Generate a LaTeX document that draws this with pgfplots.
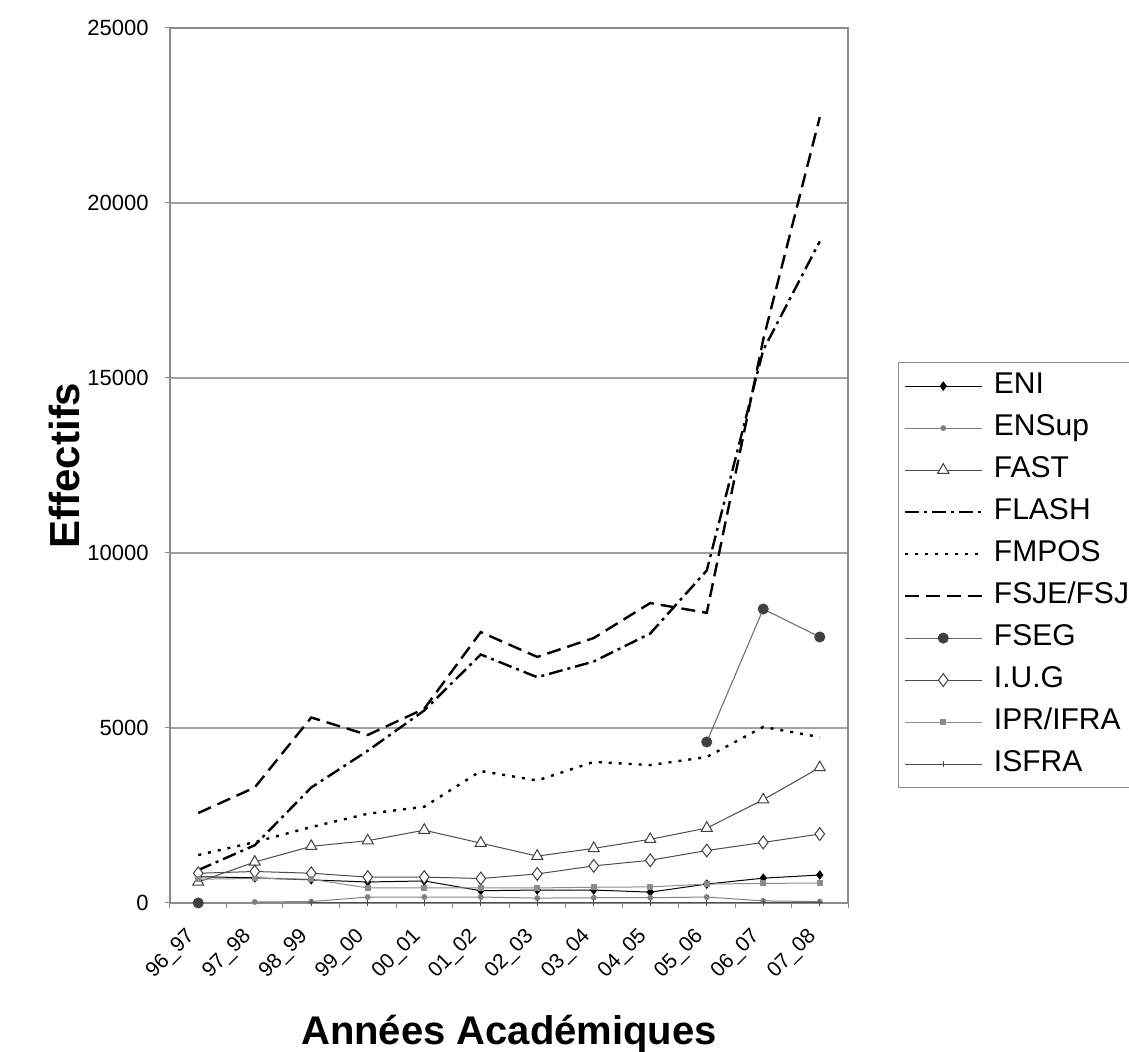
\documentclass[border=0pt]{standalone}
\usepackage{fontspec}
\setmainfont{Liberation Sans}
\usepackage{pgfplots}
\usepackage{pgfplotstable}
\pgfplotsset{compat=1.18}
\pgfplotstableread{
x ENI ENSup FAST FLASH FMPOS FSJE FSEG IUG IPR ISFRA
0 750 nan 600 940 1370 2570 0 850 680 nan
1 720 30 1170 1650 1740 3300 nan 900 700 nan
2 660 40 1620 3300 2170 5300 nan 850 680 10
3 600 170 1780 4350 2550 4800 nan 740 430 10
4 630 170 2080 5500 2750 5550 nan 740 430 10
5 350 170 1710 7100 3770 7740 nan 700 430 10
6 370 140 1340 6450 3500 7030 nan 830 430 10
7 370 150 1560 6900 4030 7570 nan 1060 450 10
8 310 150 1820 7700 3940 8570 nan 1220 460 10
9 540 170 2140 9500 4170 8290 4600 1500 540 10
10 710 60 2950 15800 5030 16100 8400 1730 560 10
11 800 40 3870 18900 4740 22450 7600 1970 570 10
}\datatable
\definecolor{gridgray}{HTML}{A0A0A0}
\definecolor{axgray}{HTML}{8C8C8C}
\begin{document}
\begin{tikzpicture}[x=1pt,y=1pt]
\begin{axis}[
  at={(0,0)}, anchor=south west,
  scale only axis, width=339pt, height=437.5pt,
  xmin=-0.5, xmax=11.5, ymin=0, ymax=25000,
  xtick={0,...,11},
  xticklabels={96\_97,97\_98,98\_99,99\_00,00\_01,01\_02,02\_03,03\_04,04\_05,05\_06,06\_07,07\_08},
  minor xtick={-0.5,0.5,...,11.5},
  major x tick style={draw=none},
  minor tick length=2.5pt,
  ytick={0,5000,...,25000},
  major tick length=2.5pt,
  tick align=outside,
  tick pos=left,
  tick style={axgray, line width=0.5pt},
  ymajorgrids,
  grid style={gridgray, line width=0.6pt},
  axis line style={axgray, line width=0.6pt},
  scaled y ticks=false,
  yticklabel style={/pgf/number format/1000 sep={}, font=\fontsize{11}{12}\selectfont, inner sep=2pt, xshift=-6pt},
  xticklabel style={xshift=-2.5pt, yshift=-12pt, rotate=45, anchor=east, font=\fontsize{10.5}{12}\selectfont, inner sep=1pt},
  /pgf/number format/assume math mode=true,
  xlabel={\textbf{Années Académiques}},
  xlabel style={at={(axis description cs:0.5,0)}, anchor=base, yshift=-71pt, font=\fontsize{20}{24}\selectfont},
  ylabel={\textbf{Effectifs}},
  ylabel style={at={(axis description cs:-0.155,0.5)}, anchor=center, font=\fontsize{21}{24}\selectfont},
  unbounded coords=jump,
  legend style={at={(axis description cs:1.0737,0.6183)}, anchor=north west,
    draw=axgray, line width=0.6pt, inner sep=2.5pt, row sep=2.5pt,
    font=\fontsize{15}{17}\selectfont,
    nodes={text height=11pt, text depth=3.5pt, inner ysep=2pt, inner xsep=2pt}},
  legend cell align=left,
  legend image code/.code={\draw[mark repeat=2,mark phase=2] plot coordinates {(0pt,0pt) (19.25pt,0pt) (38.5pt,0pt)}; \path (42pt,0pt);},
]
\addplot[black, line width=0.5pt, mark=diamond*, mark size=2pt, mark options={solid, fill=black}] table[x=x,y=ENI] {\datatable};
\addlegendentry{ENI}
\addplot[gray, line width=0.5pt, mark=*, mark size=1.2pt, mark options={solid, fill=gray}] table[x=x,y=ENSup] {\datatable};
\addlegendentry{ENSup}
\addplot[black!70, line width=0.5pt, mark=triangle*, mark size=3.2pt, mark options={solid, fill=white, draw=black!75}] table[x=x,y=FAST] {\datatable};
\addlegendentry{FAST}
\addplot[black, line width=1.2pt, dash pattern=on 7pt off 2.5pt on 1.5pt off 2.5pt] table[x=x,y=FLASH] {\datatable};
\addlegendentry{FLASH}
\addplot[black, line width=1.2pt, dash pattern=on 1.5pt off 3.5pt] table[x=x,y=FMPOS] {\datatable};
\addlegendentry{FMPOS}
\addplot[black, line width=1.2pt, dash pattern=on 7pt off 3.5pt] table[x=x,y=FSJE] {\datatable};
\addlegendentry{FSJE/FSJP}
\addplot[black!60, line width=0.5pt, mark=*, mark size=2.5pt, mark options={solid, fill=black!75, draw=black!75}] table[x=x,y=FSEG] {\datatable};
\addlegendentry{FSEG}
\addplot[black!70, line width=0.5pt, mark=diamond*, mark size=3.2pt, mark options={solid, fill=white, draw=black!75}] table[x=x,y=IUG] {\datatable};
\addlegendentry{I.U.G}
\addplot[black!45, line width=0.5pt, mark=square*, mark size=1.2pt, mark options={solid, fill=black!45}] table[x=x,y=IPR] {\datatable};
\addlegendentry{IPR/IFRA}
\addplot[black!70, line width=0.5pt, mark=+, mark size=1.5pt, mark options={solid}] table[x=x,y=ISFRA] {\datatable};
\addlegendentry{ISFRA}
\end{axis}
\pgfresetboundingbox
\path[use as bounding box] (-85,-74.5) rectangle (479.5,451.5);
\end{tikzpicture}
\end{document}
